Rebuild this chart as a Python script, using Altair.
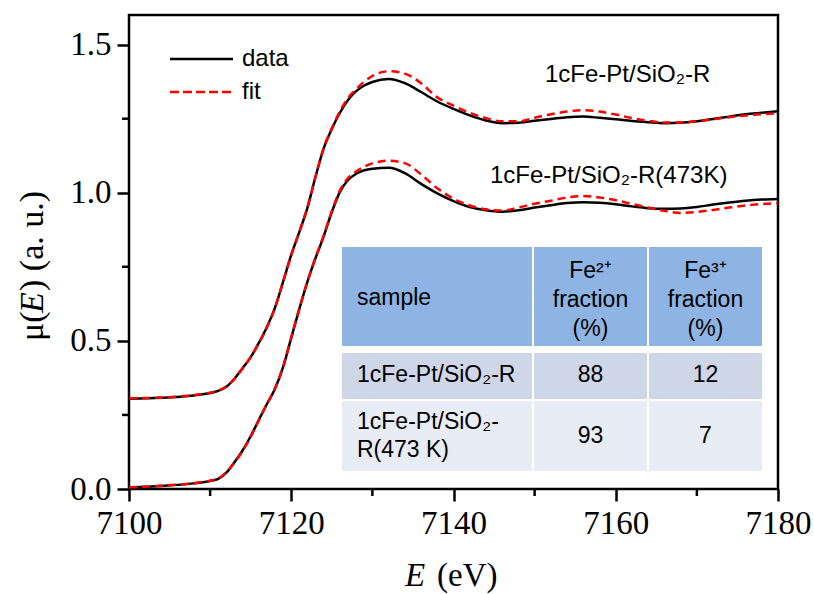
import altair as alt
import pandas as pd

# ---------------- data ----------------
energy = [7100, 7104, 7108, 7110, 7111, 7112, 7113, 7114, 7115, 7116, 7117, 7118, 7119,
          7120, 7121, 7122, 7123, 7124, 7125, 7126, 7127, 7128, 7129, 7130, 7132, 7134,
          7136, 7138, 7140, 7142, 7144, 7146, 7148, 7150, 7152, 7154, 7156, 7158, 7160,
          7162, 7164, 7166, 7168, 7170, 7172, 7174, 7176, 7178, 7180]

r_data = [0.305, 0.308, 0.316, 0.324, 0.331, 0.345, 0.372, 0.408, 0.445, 0.493, 0.547, 0.612,
          0.700, 0.790, 0.868, 0.950, 1.055, 1.150, 1.215, 1.270, 1.313, 1.343, 1.362, 1.374,
          1.384, 1.370, 1.340, 1.308, 1.283, 1.261, 1.244, 1.235, 1.236, 1.243, 1.249, 1.255,
          1.257, 1.253, 1.248, 1.242, 1.238, 1.235, 1.236, 1.241, 1.249, 1.257, 1.265, 1.270, 1.275]
r_fit = [0.306, 0.309, 0.317, 0.325, 0.332, 0.346, 0.372, 0.407, 0.445, 0.492, 0.545, 0.612,
         0.700, 0.790, 0.868, 0.952, 1.055, 1.152, 1.218, 1.275, 1.320, 1.350, 1.375, 1.394,
         1.410, 1.402, 1.370, 1.322, 1.294, 1.270, 1.252, 1.241, 1.241, 1.253, 1.265, 1.274,
         1.279, 1.274, 1.264, 1.252, 1.243, 1.237, 1.237, 1.241, 1.248, 1.255, 1.261, 1.265, 1.268]
s_data = [0.005, 0.010, 0.019, 0.027, 0.034, 0.055, 0.090, 0.130, 0.178, 0.233, 0.287, 0.338,
          0.412, 0.510, 0.608, 0.700, 0.780, 0.853, 0.935, 1.003, 1.043, 1.064, 1.076, 1.081,
          1.084, 1.066, 1.030, 0.998, 0.972, 0.952, 0.941, 0.936, 0.941, 0.950, 0.958, 0.965,
          0.968, 0.966, 0.961, 0.954, 0.948, 0.946, 0.947, 0.952, 0.960, 0.967, 0.973, 0.977, 0.979]
s_fit = [0.006, 0.011, 0.020, 0.028, 0.035, 0.056, 0.090, 0.128, 0.176, 0.232, 0.287, 0.340,
         0.414, 0.512, 0.610, 0.702, 0.782, 0.856, 0.938, 1.008, 1.050, 1.072, 1.088, 1.099,
         1.108, 1.100, 1.062, 1.015, 0.980, 0.957, 0.944, 0.940, 0.950, 0.963, 0.973, 0.984,
         0.989, 0.984, 0.975, 0.962, 0.950, 0.939, 0.932, 0.935, 0.942, 0.950, 0.957, 0.962, 0.965]

sample_names = ["1cFe-Pt/SiO\u2082-R", "1cFe-Pt/SiO\u2082-R(473K)"]
legend_labels = ["data", "fit"]

x_major = [7100, 7120, 7140, 7160, 7180]
x_minor = [7110, 7130, 7150, 7170]
y_major = [0.0, 0.5, 1.0, 1.5]
y_minor = [0.25, 0.75, 1.25]

table_header = ["sample", "Fe\u00b2\u207a\nfraction\n(%)", "Fe\u00b3\u207a\nfraction\n(%)"]
table_samples = ["1cFe-Pt/SiO\u2082-R", "1cFe-Pt/SiO\u2082-\nR(473 K)"]
fe2_fraction = ["88", "93"]
fe3_fraction = ["12", "7"]

# ---------------- layout ----------------
W, H = 649, 474
SERIF = "Liberation Serif"
SANS = "Liberation Sans"
LW = 2.5
TICKFS = 33

rows = []
for name, d, f in [(sample_names[0], r_data, r_fit), (sample_names[1], s_data, s_fit)]:
    for e, v in zip(energy, d):
        rows.append({"E": e, "mu": v, "sample": name, "kind": "data"})
    for e, v in zip(energy, f):
        rows.append({"E": e, "mu": v, "sample": name, "kind": "fit"})
df = pd.DataFrame(rows)

xs = alt.Scale(domain=[7100, 7180], nice=False, zero=False)
ys = alt.Scale(domain=[0, 1.6], nice=False, zero=False)

axis_common = dict(title=None, labelFlush=False, labelOverlap=False, labelPadding=6,
                   labelFont=SERIF, labelFontSize=TICKFS, labelColor="black",
                   domain=False, grid=False, tickColor="black", tickWidth=LW, tickSize=12)
x_enc = alt.X("E:Q", scale=xs, axis=alt.Axis(values=x_major, format="d", **axis_common))
y_enc = alt.Y("mu:Q", scale=ys, axis=alt.Axis(values=y_major, format=".1f", **axis_common))

base = alt.Chart(df)
data_lines = base.transform_filter(alt.datum.kind == "data").mark_line(
    color="black", strokeWidth=LW, interpolate="monotone"
).encode(x=x_enc, y=y_enc, detail="sample:N")
fit_lines = base.transform_filter(alt.datum.kind == "fit").mark_line(
    color="#ff0000", strokeWidth=LW, strokeDash=[8, 5], interpolate="monotone"
).encode(x="E:Q", y="mu:Q", detail="sample:N")

minor_x = alt.Chart(pd.DataFrame({"E": x_minor})).mark_rule(color="black", strokeWidth=LW).encode(
    x="E:Q", y=alt.value(H), y2=alt.value(H + 7))
minor_y = alt.Chart(pd.DataFrame({"mu": y_minor})).mark_rule(color="black", strokeWidth=LW).encode(
    y="mu:Q", x=alt.value(-7), x2=alt.value(0))

one = alt.Data(values=[{"a": 1}])


def txt(t, x, y, size, font=SANS, align="left", baseline="middle", style="normal", angle=0,
        lineHeight=None):
    kw = dict(text=t, fontSize=size, font=font, align=align, baseline=baseline,
              fontStyle=style, color="black")
    if angle:
        kw["angle"] = angle
    if lineHeight:
        kw["lineHeight"] = lineHeight
        kw["lineBreak"] = "\n"
    return alt.Chart(one).mark_text(**kw).encode(x=alt.value(x), y=alt.value(y))


def rect(x0, x1, y0, y1, color):
    return alt.Chart(one).mark_rect(color=color, opacity=1).encode(
        x=alt.value(x0), x2=alt.value(x1), y=alt.value(y0), y2=alt.value(y1))


def seg(x0, x1, y, color, dash=None):
    kw = dict(color=color, strokeWidth=LW)
    if dash:
        kw["strokeDash"] = dash
    return alt.Chart(one).mark_rule(**kw).encode(x=alt.value(x0), x2=alt.value(x1), y=alt.value(y))


layers = [data_lines, fit_lines, minor_x, minor_y]

# legend
layers += [seg(41, 104, 44, "black"), seg(41, 104, 77, "#ff0000", [9, 4]),
           txt(legend_labels[0], 113, 44, 24), txt(legend_labels[1], 113, 77, 24)]

# curve labels
layers += [txt(sample_names[0], 416, 60, 24), txt(sample_names[1], 361, 161, 24)]

# table
cols = [(213, 403), (405, 518), (520, 633)]
HEAD = "#8db4e2"
ROW1 = "#cfd6e8"
ROW2 = "#e8ecf4"
for c0, c1 in cols:
    layers.append(rect(c0, c1, 232, 331, HEAD))
    layers.append(rect(c0, c1, 338, 384, ROW1))
    layers.append(rect(c0, c1, 386, 456, ROW2))
cc2 = (cols[1][0] + cols[1][1]) / 2
cc3 = (cols[2][0] + cols[2][1]) / 2
layers += [
    txt(table_header[0], 228, 283, 23),
    txt(table_header[1], cc2, 256, 23, align="center", lineHeight=29),
    txt(table_header[2], cc3, 256, 23, align="center", lineHeight=29),
    txt(table_samples[0], 228, 360, 23),
    txt(fe2_fraction[0], cc2, 360, 23, align="center"),
    txt(fe3_fraction[0], cc3, 360, 23, align="center"),
    txt(table_samples[1], 228, 407, 23, lineHeight=28),
    txt(fe2_fraction[1], cc2, 421, 23, align="center"),
    txt(fe3_fraction[1], cc3, 421, 23, align="center"),
]

# axis titles
layers += [
    txt("E", 276, 571, 33, font=SERIF, style="italic", baseline="alphabetic"),
    txt("(eV)", 308, 571, 33, font=SERIF, baseline="alphabetic"),
    txt("\u03bc(", -86, 326, 34, font=SERIF, baseline="alphabetic", angle=270),
    txt("E", -86, 298, 34, font=SERIF, style="italic", baseline="alphabetic", angle=270),
    txt(") (a. u.)", -86, 276, 34, font=SERIF, baseline="alphabetic", angle=270),
]

chart = alt.layer(*layers).properties(
    width=W, height=H,
    autosize=alt.AutoSizeParams(type="none"),
    padding={"left": 129, "top": 15, "right": 36, "bottom": 105},
    background="white",
).configure_view(
    stroke="black", strokeWidth=LW
).configure_axis(
    domain=False, grid=False, tickColor="black", tickWidth=LW, tickSize=12,
    labelFont=SERIF, labelFontSize=TICKFS, labelColor="black",
)

chart.save("out.html", embed_options={"renderer": "svg", "actions": False})
